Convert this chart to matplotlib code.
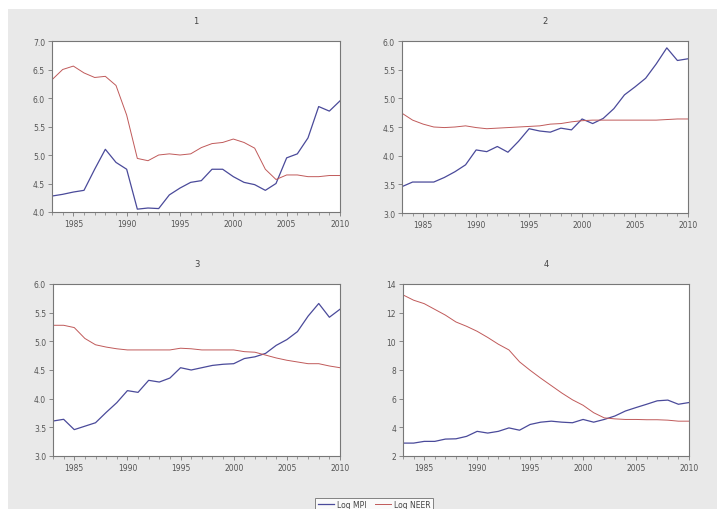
import numpy as np
import matplotlib
matplotlib.use("Agg")
import matplotlib.pyplot as plt
from matplotlib.lines import Line2D
from matplotlib.patches import Rectangle

# -----------------------------
# Data (annual 1983-2010)
years = list(range(1983, 2011))

mpi_1 = [4.28, 4.31, 4.35, 4.38, 4.75, 5.10, 4.87, 4.75, 4.05, 4.07, 4.06, 4.30,
         4.42, 4.52, 4.55, 4.75, 4.75, 4.62, 4.52, 4.48, 4.38, 4.50, 4.95, 5.02,
         5.30, 5.85, 5.77, 5.95]
neer_1 = [6.32, 6.50, 6.56, 6.44, 6.36, 6.38, 6.22, 5.70, 4.94, 4.90, 5.00, 5.02,
          5.00, 5.02, 5.13, 5.20, 5.22, 5.28, 5.22, 5.12, 4.75, 4.57, 4.65, 4.65,
          4.62, 4.62, 4.64, 4.64]

mpi_2 = [3.46, 3.54, 3.54, 3.54, 3.62, 3.72, 3.84, 4.10, 4.07, 4.16, 4.06, 4.25,
         4.47, 4.43, 4.41, 4.48, 4.45, 4.64, 4.56, 4.65, 4.82, 5.06, 5.20, 5.35,
         5.60, 5.88, 5.66, 5.69]
neer_2 = [4.74, 4.62, 4.55, 4.50, 4.49, 4.50, 4.52, 4.49, 4.47, 4.48, 4.49, 4.50,
          4.51, 4.52, 4.55, 4.56, 4.59, 4.61, 4.62, 4.62, 4.62, 4.62, 4.62, 4.62,
          4.62, 4.63, 4.64, 4.64]

mpi_3 = [3.61, 3.64, 3.46, 3.52, 3.58, 3.76, 3.93, 4.14, 4.11, 4.32, 4.29, 4.36,
         4.54, 4.50, 4.54, 4.58, 4.60, 4.61, 4.70, 4.73, 4.79, 4.93, 5.03, 5.17,
         5.44, 5.66, 5.42, 5.56]
neer_3 = [5.28, 5.28, 5.24, 5.05, 4.94, 4.90, 4.87, 4.85, 4.85, 4.85, 4.85, 4.85,
          4.88, 4.87, 4.85, 4.85, 4.85, 4.85, 4.82, 4.81, 4.76, 4.71, 4.67, 4.64,
          4.61, 4.61, 4.57, 4.54]

mpi_4 = [2.90, 2.90, 3.02, 3.02, 3.18, 3.20, 3.37, 3.72, 3.60, 3.72, 3.96, 3.80,
         4.20, 4.36, 4.43, 4.36, 4.32, 4.55, 4.36, 4.55, 4.79, 5.14, 5.38, 5.61,
         5.85, 5.90, 5.61, 5.73]
neer_4 = [13.24, 12.87, 12.63, 12.23, 11.83, 11.35, 11.05, 10.70, 10.27, 9.80,
          9.40, 8.57, 7.98, 7.43, 6.91, 6.39, 5.92, 5.54, 5.02, 4.66, 4.59, 4.55,
          4.55, 4.53, 4.53, 4.50, 4.43, 4.43]

titles = ["1", "2", "3", "4"]
mpi = [mpi_1, mpi_2, mpi_3, mpi_4]
neer = [neer_1, neer_2, neer_3, neer_4]
ylims = [(4.0, 7.0), (3.0, 6.0), (3.0, 6.0), (2, 14)]
yticks = [np.arange(4.0, 7.01, 0.5), np.arange(3.0, 6.01, 0.5),
          np.arange(3.0, 6.01, 0.5), np.arange(2, 15, 2)]
ylabels = [[f"{v:.1f}" for v in yticks[0]], [f"{v:.1f}" for v in yticks[1]],
           [f"{v:.1f}" for v in yticks[2]], [f"{int(v)}" for v in yticks[3]]]

# -----------------------------
fig = plt.figure(figsize=(7.17, 5.10), dpi=100)
fig.patch.set_facecolor("white")
fig.patches.append(Rectangle((8 / 717, 0), 1, 1 - 10 / 510, transform=fig.transFigure,
                             facecolor="#e9e9e9", edgecolor="none", zorder=-10))

W, H = 717, 510
boxes = [(52, 42, 340, 213), (402, 42, 688, 214), (53, 285, 340, 457), (403, 285, 689, 457)]

blue = "#4a4a9a"
red = "#c05a5a"
tick_col = "#555555"

for i, (l, t, r, b) in enumerate(boxes):
    ax = fig.add_axes([l / W, 1 - b / H, (r - l) / W, (b - t) / H])
    ax.plot(years, mpi[i], color=blue, lw=0.9)
    ax.plot(years, neer[i], color=red, lw=0.7)
    ax.set_xlim(1983, 2010)
    ax.set_ylim(*ylims[i])
    ax.set_xticks([1985, 1990, 1995, 2000, 2005, 2010])
    ax.set_xticks(years, minor=True)
    ax.set_yticks(yticks[i])
    ax.set_yticklabels(ylabels[i])
    ax.tick_params(axis="both", which="major", labelsize=5.5, labelcolor=tick_col,
                   color="#777777", length=3, width=0.6, pad=2)
    ax.tick_params(axis="x", which="minor", color="#777777", length=2, width=0.5)
    for s in ax.spines.values():
        s.set_color("#777777")
        s.set_linewidth(0.8)
    ax.set_facecolor("white")
    ax.set_title(titles[i], fontsize=6, color="#444444", pad=13)

handles = [Line2D([], [], color=blue, lw=0.9), Line2D([], [], color=red, lw=0.7)]
leg = fig.legend(handles, ["Log MPI", "Log NEER"], loc="lower center",
                 bbox_to_anchor=(0.522, -0.012), ncol=2, fontsize=5.5, frameon=True,
                 fancybox=False, handlelength=2.2, columnspacing=1.0,
                 borderpad=0.3, handletextpad=0.4)
leg.get_frame().set_edgecolor("#666666")
leg.get_frame().set_linewidth(0.7)
for txt in leg.get_texts():
    txt.set_color("#444444")

fig.savefig("out.png", dpi=100, facecolor=fig.get_facecolor())
